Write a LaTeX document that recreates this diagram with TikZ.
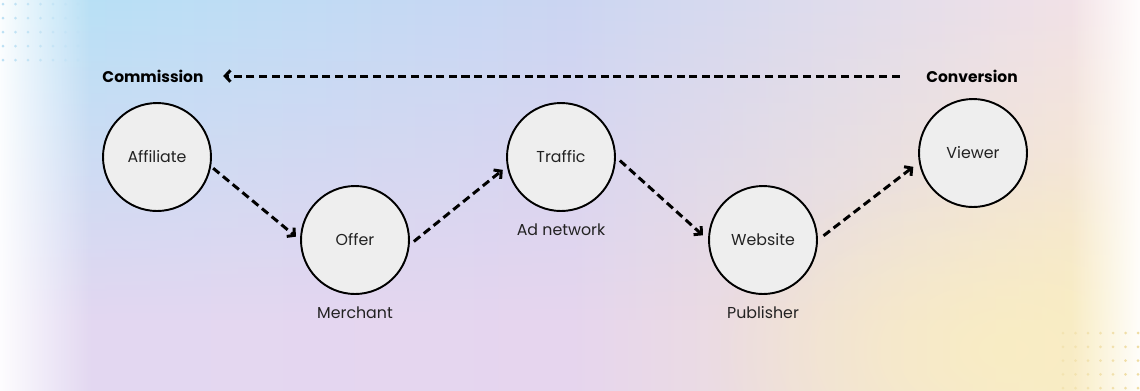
\documentclass[tikz,border=0pt]{standalone}
\usepackage{fontspec}
\setmainfont{Poppins}
\usetikzlibrary{arrows.meta,fadings}
\definecolor{skyA}{HTML}{B4E3F7}
\definecolor{skyB}{HTML}{CBD6F3}
\definecolor{skyC}{HTML}{F7E3E6}
\definecolor{lowA}{HTML}{E2D8F2}
\definecolor{lowB}{HTML}{E6D5EE}
\definecolor{lowC}{HTML}{FAEEC2}
\definecolor{dotBlue}{HTML}{BCE0F4}
\definecolor{dotSand}{HTML}{EFDCA0}
\definecolor{discFill}{HTML}{EEEEEE}
\definecolor{inkText}{HTML}{222222}
\tikzfading[name=fadetop, top color=transparent!0, bottom color=transparent!100]
\tikzfading[name=fadeleft, left color=transparent!0, right color=transparent!100]
\tikzfading[name=faderight, left color=transparent!100, right color=transparent!0]
\tikzfading[name=glow, inner color=transparent!20, outer color=transparent!100]
\begin{document}
\begin{tikzpicture}[x=0.02cm, y=-0.02cm,
    stage/.style={circle, draw=black, line width=1.1pt, fill=discFill, minimum size=2.16cm, inner sep=0pt,
        text=inkText, font=\fontsize{9}{11}\selectfont},
    tag/.style={text=inkText, font=\fontsize{9}{11}\selectfont},
    head/.style={inner sep=0pt, font=\fontsize{8.8}{10}\selectfont\bfseries},
    flow/.style={line width=1.7pt, dash pattern=on 4.6pt off 2.6pt, -{Straight Barb[length=3pt,width=6.5pt]}}]
    % background
    \useasboundingbox (0,0) rectangle (1140,390);
    \shade[left color=lowA, right color=lowC, middle color=lowB] (-5,-5) rectangle (1145,395);
    \shade[left color=skyA, right color=skyC, middle color=skyB, path fading=fadetop] (-5,-5) rectangle (1145,320);
    \fill[lowC, path fading=glow] (1010,350) ellipse (300 and 190);
    \fill[white, path fading=fadeleft] (-5,-5) rectangle (90,395);
    \fill[white, path fading=faderight] (1070,-5) rectangle (1145,395);
    \foreach \i in {0,...,6}
        \foreach \j in {0,...,4}
            \fill[dotBlue, opacity=1-0.1*\i] (3+12.5*\i,4+14*\j) circle (1.5);
    \foreach \i in {0,...,6}
        \foreach \j in {0,...,4}
            \fill[dotSand, opacity=0.5+0.08*\i] (1063+12.5*\i,333+13.8*\j) circle (1.5);

    % stages
    \node[stage] (aff) at (157,157) {Affiliate};
    \node[stage] (off) at (355,240) {Offer};
    \node[stage] (trf) at (561,157) {Traffic};
    \node[stage] (web) at (763,240) {Website};
    \node[stage] (vwr) at (973,153) {Viewer};

    \node[tag] (mer) at (355,313) {Merchant};
    \node[tag] (adn) at (561,230) {Ad network};
    \node[tag] (pub) at (763,313) {Publisher};

    \node[head] (comm) at (153,76) {Commission};
    \node[head] (conv) at (972,76) {Conversion};

    % flows
    \draw[flow, shorten <=1.5pt, shorten >=3pt] (aff.-10) -- (off.west);
    \draw[flow, shorten <=3pt, shorten >=3pt] (off.-5) -- (trf.190);
    \draw[flow, shorten <=3pt, shorten >=4pt] (trf.east) -- (web.west);
    \draw[flow, shorten <=4pt, shorten >=4pt] (web.east) -- (vwr.190);
    \draw[flow, shorten <=15pt, shorten >=11pt] (conv.west) -- (comm.east);
\end{tikzpicture}
\end{document}
